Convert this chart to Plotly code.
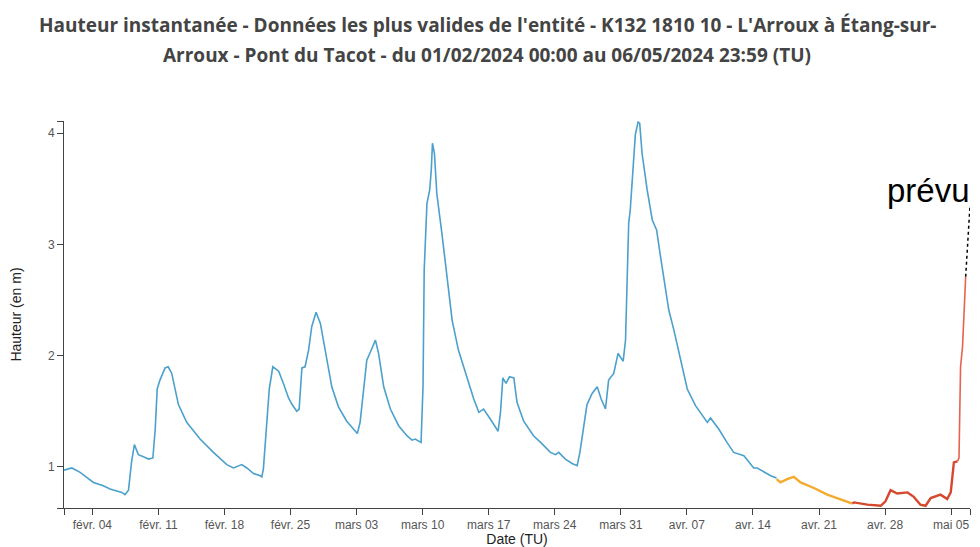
import plotly.graph_objects as go

# ---- data ----
blue_dates = [
    "2024-02-01 00:00", "2024-02-01 20:00", "2024-02-02 17:00", "2024-02-04 03:00", "2024-02-05 04:00",
    "2024-02-05 21:00", "2024-02-07 03:00", "2024-02-07 11:00", "2024-02-07 20:00", "2024-02-08 04:00",
    "2024-02-08 11:00", "2024-02-08 21:00", "2024-02-09 10:00", "2024-02-09 23:00", "2024-02-10 10:00",
    "2024-02-10 16:00", "2024-02-10 21:00", "2024-02-11 04:00", "2024-02-11 17:00", "2024-02-12 01:00",
    "2024-02-12 10:00", "2024-02-12 18:00", "2024-02-13 03:00", "2024-02-14 00:00", "2024-02-15 10:00",
    "2024-02-16 20:00", "2024-02-18 06:00", "2024-02-18 23:00", "2024-02-19 20:00", "2024-02-20 09:00",
    "2024-02-21 02:00", "2024-02-21 19:00", "2024-02-21 23:00", "2024-02-22 03:00", "2024-02-22 10:00",
    "2024-02-22 18:00", "2024-02-23 03:00", "2024-02-23 18:00", "2024-02-24 06:00", "2024-02-24 19:00",
    "2024-02-25 04:00", "2024-02-25 16:00", "2024-02-25 22:00", "2024-02-26 05:00", "2024-02-26 13:00",
    "2024-02-26 22:00", "2024-02-27 06:00", "2024-02-27 17:00", "2024-02-28 04:00", "2024-02-28 16:00",
    "2024-02-29 09:00", "2024-03-01 02:00", "2024-03-01 23:00", "2024-03-02 16:00", "2024-03-03 02:00",
    "2024-03-03 09:00", "2024-03-03 18:00", "2024-03-04 02:00", "2024-03-04 12:00", "2024-03-05 00:00",
    "2024-03-05 08:00", "2024-03-05 21:00", "2024-03-06 14:00", "2024-03-07 11:00", "2024-03-08 08:00",
    "2024-03-08 21:00", "2024-03-09 05:00", "2024-03-09 20:00", "2024-03-10 01:00", "2024-03-10 04:00",
    "2024-03-10 11:00", "2024-03-10 18:00", "2024-03-10 22:00", "2024-03-11 01:00", "2024-03-11 06:00",
    "2024-03-11 12:00", "2024-03-12 01:00", "2024-03-12 14:00", "2024-03-13 03:00", "2024-03-13 19:00",
    "2024-03-14 17:00", "2024-03-15 10:00", "2024-03-15 23:00", "2024-03-16 11:00", "2024-03-17 04:00",
    "2024-03-18 00:00", "2024-03-18 06:00", "2024-03-18 12:00", "2024-03-18 20:00", "2024-03-19 05:00",
    "2024-03-19 16:00", "2024-03-20 00:00", "2024-03-20 17:00", "2024-03-21 18:00", "2024-03-22 12:00",
    "2024-03-23 13:00", "2024-03-24 02:00", "2024-03-24 10:00", "2024-03-25 03:00", "2024-03-25 20:00",
    "2024-03-26 09:00", "2024-03-26 16:00", "2024-03-27 02:00", "2024-03-27 10:00", "2024-03-27 23:00",
    "2024-03-28 12:00", "2024-03-28 22:00", "2024-03-29 09:00", "2024-03-29 17:00", "2024-03-30 06:00",
    "2024-03-30 17:00", "2024-03-31 06:00", "2024-03-31 12:00", "2024-03-31 20:00", "2024-04-01 00:00",
    "2024-04-01 09:00", "2024-04-01 13:00", "2024-04-01 20:00", "2024-04-02 00:00", "2024-04-02 06:00",
    "2024-04-02 19:00", "2024-04-03 08:00", "2024-04-03 19:00", "2024-04-04 05:00", "2024-04-04 18:00",
    "2024-04-05 02:00", "2024-04-05 15:00", "2024-04-06 08:00", "2024-04-07 01:00", "2024-04-07 22:00",
    "2024-04-09 04:00", "2024-04-09 12:00", "2024-04-10 09:00", "2024-04-11 06:00", "2024-04-11 23:00",
    "2024-04-13 01:00", "2024-04-14 02:00", "2024-04-14 11:00", "2024-04-15 21:00", "2024-04-16 12:00",
]
blue_vals = [
    0.97, 0.99, 0.95, 0.86, 0.83,
    0.80, 0.77, 0.75, 0.79, 1.05,
    1.20, 1.11, 1.09, 1.07, 1.08,
    1.34, 1.70, 1.78, 1.89, 1.90,
    1.84, 1.70, 1.56, 1.40, 1.25,
    1.13, 1.02, 0.99, 1.02, 0.99,
    0.94, 0.92, 0.91, 0.98, 1.34,
    1.70, 1.90, 1.86, 1.75, 1.62,
    1.56, 1.50, 1.52, 1.89, 1.90,
    2.05, 2.26, 2.39, 2.29, 2.05,
    1.72, 1.54, 1.41, 1.34, 1.30,
    1.40, 1.70, 1.96, 2.04, 2.14,
    2.02, 1.72, 1.52, 1.37, 1.28,
    1.24, 1.25, 1.22, 1.72, 2.77,
    3.37, 3.49, 3.67, 3.91, 3.82,
    3.46, 3.10, 2.68, 2.32, 2.05,
    1.81, 1.61, 1.49, 1.52, 1.43,
    1.32, 1.49, 1.80, 1.75, 1.81,
    1.80, 1.58, 1.41, 1.28, 1.22,
    1.13, 1.11, 1.13, 1.07, 1.03,
    1.01, 1.13, 1.37, 1.56, 1.66,
    1.72, 1.61, 1.52, 1.78, 1.84,
    2.02, 1.95, 2.14, 3.19, 3.31,
    3.76, 3.99, 4.10, 4.09, 3.82,
    3.49, 3.22, 3.13, 2.89, 2.59,
    2.41, 2.23, 1.96, 1.70, 1.55,
    1.40, 1.44, 1.34, 1.22, 1.13,
    1.10, 0.99, 0.99, 0.92, 0.90,
]

orange_dates = [
    "2024-04-16 12:00", "2024-04-16 22:00", "2024-04-17 15:00", "2024-04-18 08:00", "2024-04-19 01:00",
    "2024-04-20 11:00", "2024-04-21 21:00", "2024-04-23 07:00", "2024-04-24 13:00",
]
orange_vals = [0.89, 0.86, 0.89, 0.91, 0.86, 0.81, 0.75, 0.71, 0.67]

red_dates = [
    "2024-04-24 13:00", "2024-04-24 17:00", "2024-04-26 03:00", "2024-04-27 13:00", "2024-04-28 01:00",
    "2024-04-28 14:00", "2024-04-29 07:00", "2024-04-30 09:00", "2024-05-01 01:00", "2024-05-01 18:00",
    "2024-05-02 07:00", "2024-05-02 20:00", "2024-05-03 21:00", "2024-05-04 14:00", "2024-05-04 23:00",
    "2024-05-05 07:00", "2024-05-05 16:00",
]
red_vals = [0.67, 0.68, 0.66, 0.65, 0.69, 0.79, 0.76, 0.77, 0.73, 0.66,
            0.65, 0.72, 0.75, 0.71, 0.77, 1.04, 1.05]

forecast_dates = ["2024-05-05 16:00", "2024-05-05 20:00", "2024-05-06 00:00", "2024-05-06 05:00", "2024-05-06 13:00"]
forecast_vals = [1.05, 1.08, 1.90, 2.08, 2.71]

x_tickvals = ["2024-02-04", "2024-02-11", "2024-02-18", "2024-02-25", "2024-03-03", "2024-03-10",
              "2024-03-17", "2024-03-24", "2024-03-31", "2024-04-07", "2024-04-14", "2024-04-21",
              "2024-04-28", "2024-05-05"]
x_ticktext = ["févr. 04", "févr. 11", "févr. 18", "févr. 25", "mars 03", "mars 10", "mars 17",
              "mars 24", "mars 31", "avr. 07", "avr. 14", "avr. 21", "avr. 28", "mai 05"]
x_range = ["2024-02-01 00:00", "2024-05-07 00:00"]
y_tickvals = [1, 2, 3, 4]
y_range = [0.63, 4.11]

title_line1 = "Hauteur instantanée - Données les plus valides de l'entité - K132 1810 10 - L'Arroux à Étang-sur-"
title_line2 = "Arroux - Pont du Tacot - du 01/02/2024 00:00 au 06/05/2024 23:59 (TU)"

# ---- figure ----
fig = go.Figure()
fig.add_trace(go.Scatter(x=blue_dates, y=blue_vals, mode="lines",
                         line=dict(color="rgb(75,160,204)", width=1.6), hoverinfo="skip"))
fig.add_trace(go.Scatter(x=orange_dates, y=orange_vals, mode="lines",
                         line=dict(color="rgb(246,170,45)", width=2.4), hoverinfo="skip"))
fig.add_trace(go.Scatter(x=red_dates, y=red_vals, mode="lines",
                         line=dict(color="rgb(214,72,45)", width=2.4), hoverinfo="skip"))
fig.add_trace(go.Scatter(x=forecast_dates, y=forecast_vals, mode="lines",
                         line=dict(color="rgb(232,98,78)", width=1.6), hoverinfo="skip"))

# dotted leader from the last forecast point to the "prévu" label
label_y = 3.35
fig.add_shape(type="line", xref="x", yref="y",
              x0=forecast_dates[-1], y0=forecast_vals[-1], x1=x_range[1], y1=label_y,
              line=dict(color="black", width=1.5, dash="dot"))
fig.add_annotation(x=x_range[1], y=label_y, xref="x", yref="y", text="prévu",
                   showarrow=False, xanchor="right", yanchor="bottom", yshift=-5, xshift=2,
                   font=dict(family="Liberation Sans, Arial", size=33, color="black"))

title_font = dict(family="Open Sans", size=19, color="#444444", weight="bold")
fig.add_annotation(xref="paper", yref="paper", x=0.5, y=1, xanchor="center", yanchor="middle",
                   text=title_line1, showarrow=False, yshift=96, xshift=-30, font=title_font)
fig.add_annotation(xref="paper", yref="paper", x=0.5, y=1, xanchor="center", yanchor="middle",
                   text=title_line2, showarrow=False, yshift=66, xshift=-30, font=title_font)

axis_font = dict(family="Liberation Sans, Arial", size=12, color="#555555")
fig.update_xaxes(
    range=x_range, type="date", automargin=False,
    tickvals=x_tickvals + x_range, ticktext=x_ticktext + ["", ""],
    ticks="outside", ticklen=6, tickcolor="#444", tickwidth=1,
    showline=True, linecolor="#444", linewidth=1, showgrid=False, zeroline=False,
    tickfont=axis_font,
    title=dict(text="Date (TU)", font=dict(family="Liberation Sans, Arial", size=14, color="#222"), standoff=18),
)
fig.update_yaxes(
    range=y_range, automargin=False,
    tickvals=y_tickvals + y_range, ticktext=[str(v) for v in y_tickvals] + ["", ""],
    ticks="outside", ticklen=6, tickcolor="#444", tickwidth=1,
    showline=True, linecolor="#444", linewidth=1, showgrid=False, zeroline=False,
    tickfont=axis_font,
    title=dict(text="Hauteur (en m)", font=dict(family="Liberation Sans, Arial", size=14, color="#222"), standoff=44),
)
# the page body adds an 8px margin, so the figure is sized/offset to keep the
# plot area at the reference position inside the 980x547 window
fig.update_layout(
    width=972, height=539,
    margin=dict(l=56, r=10, t=113, b=39),
    paper_bgcolor="white", plot_bgcolor="white",
    showlegend=False,
)
fig.write_html("out.html")
